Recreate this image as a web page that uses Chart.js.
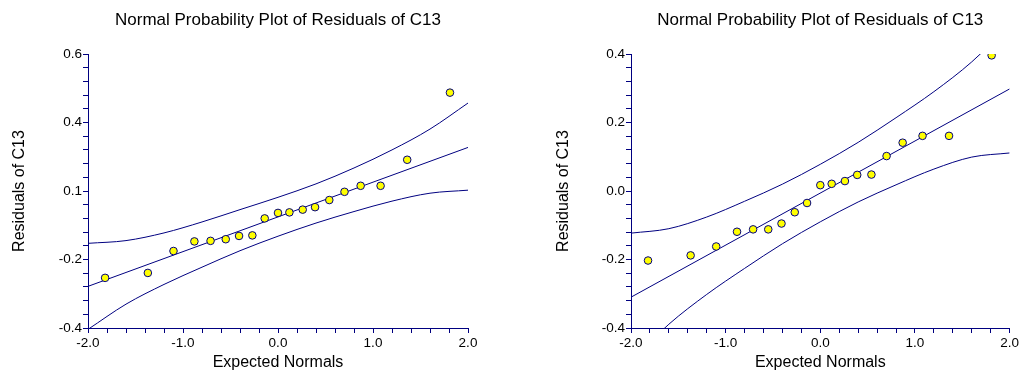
<!DOCTYPE html>
<html>
<head>
<meta charset="utf-8">
<script src="https://cdn.jsdelivr.net/npm/chart.js@4"></script>
<style>
  html, body { margin: 0; padding: 0; background: #fff; }
  .panel { position: absolute; top: 0; height: 371px; }
  #left  { left: 0;     width: 510px; }
  #right { left: 510px; width: 511px; }
</style>
</head>
<body>
<div class="panel" id="left"><canvas id="chart-left" width="510" height="371"></canvas></div>
<div class="panel" id="right"><canvas id="chart-right" width="511" height="371"></canvas></div>
<script>
'use strict';
// ── Data ──────────────────────────────────────────────────────────────────
const TITLE   = 'Normal Probability Plot of Residuals of C13';
const X_TITLE = 'Expected Normals';
const Y_TITLE = 'Residuals of C13';

// expected normal scores (x of each point)
const normalScores = [-1.82, -1.37, -1.10, -0.88, -0.71, -0.55, -0.41, -0.27, -0.14, 0.00,
                       0.12,  0.26,  0.39,  0.54,  0.70,  0.87,  1.08,  1.36,  1.81];

// left panel residuals
const leftResiduals = [-0.217, -0.199, -0.119, -0.084, -0.082, -0.076, -0.064, -0.062, 0.000, 0.020,
                        0.022,  0.032,  0.041,  0.067,  0.097,  0.119,  0.119,  0.214, 0.459];
// right panel residuals
const rightResiduals = [-0.203, -0.188, -0.162, -0.119, -0.112, -0.112, -0.095, -0.062, -0.035, 0.017,
                         0.021,  0.029,  0.047,  0.048,  0.102,  0.141,  0.161,  0.161, 0.396];

// reference line end points
const fitX      = [-2.0, 2.0];
const leftFitY  = [-0.248, 0.259];
const rightFitY = [-0.310, 0.298];

// confidence band samples
const bandX      = [-2.0, -1.6, -1.2, -0.8, -0.4, 0.0, 0.4, 0.8, 1.2, 1.6, 2.0];
const leftUpper  = [-0.091, -0.081, -0.053, -0.013, 0.032, 0.077, 0.126, 0.184, 0.250, 0.326, 0.421];
const leftLower  = [-0.405, -0.313, -0.241, -0.178, -0.118, -0.065, -0.017, 0.025, 0.063, 0.092, 0.103];
const rightUpper = [-0.123, -0.110, -0.076, -0.030, 0.020, 0.078, 0.142, 0.214, 0.290, 0.377, 0.485];
const rightLower = [-0.497, -0.389, -0.302, -0.226, -0.154, -0.090, -0.032, 0.018, 0.064, 0.099, 0.111];

// axis ticks
const xMajor       = [-2.0, -1.0, 0.0, 1.0, 2.0];
const xMajorLabels = ['-2.0', '-1.0', '0.0', '1.0', '2.0'];
const leftYMajor        = [-0.4, -0.15, 0.1, 0.35, 0.6];
const leftYMajorLabels  = ['-0.4', '-0.2', '0.1', '0.4', '0.6'];
const rightYMajor       = [-0.4, -0.2, 0.0, 0.2, 0.4];
const rightYMajorLabels = ['-0.4', '-0.2', '0.0', '0.2', '0.4'];

// ── Style ─────────────────────────────────────────────────────────────────
const NAVY   = '#000080';
const YELLOW = '#ffff00';
const FONT   = "'Liberation Sans', Arial, sans-serif";
const MINOR  = 5;   // subdivisions between labelled ticks

const zip = (xs, ys) => xs.map((x, i) => ({ x, y: ys[i] }));

// labelled ticks plus the unlabelled minor ticks between them
function tickValues(major) {
    const out = [];
    for (let i = 0; i < major.length - 1; i++)
        for (let k = 0; k < MINOR; k++)
            out.push(major[i] + (major[i + 1] - major[i]) * k / MINOR);
    out.push(major[major.length - 1]);
    return out;
}

function labelFor(major, labels) {
    return v => {
        const i = major.findIndex(m => Math.abs(m - v) < 1e-9);
        return i < 0 ? '' : labels[i];
    };
}

// title centred over the plot area, like the original
const plotTitle = {
    id: 'plotTitle',
    afterDraw(chart) {
        const { ctx, chartArea } = chart;
        ctx.save();
        ctx.font = '17px ' + FONT;
        ctx.fillStyle = '#000';
        ctx.textAlign = 'center';
        ctx.textBaseline = 'middle';
        ctx.fillText(TITLE, (chartArea.left + chartArea.right) / 2, 20);
        ctx.restore();
    }
};

function makeProbPlot(id, o) {
    const line = (data, extra) => Object.assign({
        type: 'line', data, showLine: true, borderColor: NAVY, borderWidth: 1,
        pointRadius: 0, fill: false
    }, extra);

    return new Chart(document.getElementById(id), {
        type: 'scatter',
        data: { datasets: [
            { data: zip(normalScores, o.residuals), backgroundColor: YELLOW,
              borderColor: NAVY, borderWidth: 1, pointRadius: 3.8, pointHoverRadius: 3.8 },
            line(zip(fitX, o.fitY)),
            line(zip(bandX, o.upper), { cubicInterpolationMode: 'monotone' }),
            line(zip(bandX, o.lower), { cubicInterpolationMode: 'monotone' }),
        ]},
        options: {
            responsive: false, animation: false, devicePixelRatio: 1,
            layout: { padding: { top: 54, right: o.padRight, bottom: 0, left: 0 } },
            plugins: { legend: { display: false }, title: { display: false }, tooltip: { enabled: false } },
            scales: {
                x: {
                    type: 'linear', min: -2, max: 2,
                    afterBuildTicks: s => { s.ticks = tickValues(xMajor).map(value => ({ value })); },
                    afterFit: s => { s.height = 43; },
                    border: { color: NAVY, width: 1 },
                    grid: { drawOnChartArea: false, tickLength: 5, color: NAVY, tickColor: NAVY },
                    ticks: { autoSkip: false, maxRotation: 0, padding: 2, color: '#000',
                             font: { family: FONT, size: 13.5 },
                             callback: labelFor(xMajor, xMajorLabels) },
                    title: { display: true, text: X_TITLE, color: '#000',
                             font: { family: FONT, size: 16, lineHeight: 1 },
                             padding: { top: 0, bottom: 0 } }
                },
                y: {
                    type: 'linear', min: o.yMajor[0], max: o.yMajor[o.yMajor.length - 1],
                    afterBuildTicks: s => { s.ticks = tickValues(o.yMajor).map(value => ({ value })); },
                    afterFit: s => { s.width = o.axisWidth; },
                    border: { color: NAVY, width: 1 },
                    grid: { drawOnChartArea: false, tickLength: 5, color: NAVY, tickColor: NAVY },
                    ticks: { autoSkip: false, padding: 1, color: '#000',
                             font: { family: FONT, size: 13.5 },
                             callback: labelFor(o.yMajor, o.yLabels) },
                    title: { display: true, text: Y_TITLE, color: '#000',
                             font: { family: FONT, size: 16, lineHeight: 1.2 },
                             padding: { top: o.titleGap, bottom: 0 } }
                }
            }
        },
        plugins: [plotTitle]
    });
}

makeProbPlot('chart-left', {
    residuals: leftResiduals, fitY: leftFitY, upper: leftUpper, lower: leftLower,
    yMajor: leftYMajor, yLabels: leftYMajorLabels,
    axisWidth: 88, padRight: 42, titleGap: 10.4
});

makeProbPlot('chart-right', {
    residuals: rightResiduals, fitY: rightFitY, upper: rightUpper, lower: rightLower,
    yMajor: rightYMajor, yLabels: rightYMajorLabels,
    axisWidth: 121, padRight: 10, titleGap: 43.7
});
</script>
</body>
</html>
